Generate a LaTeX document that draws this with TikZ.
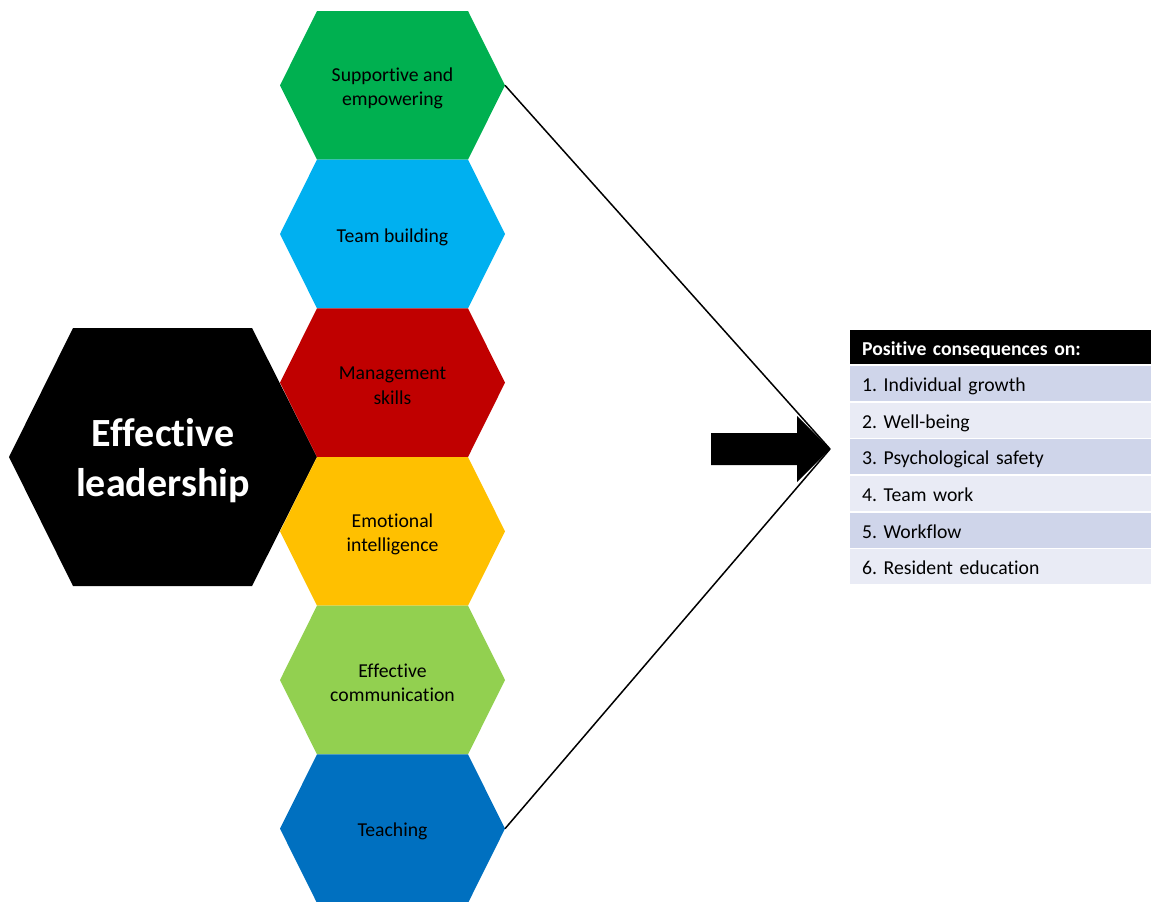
\documentclass[tikz,border=0pt]{standalone}
\usepackage{fontspec}
\setmainfont{Carlito}[Ligatures=NoCommon]
\frenchspacing
\definecolor{hexgreen}{HTML}{00B050}
\definecolor{hexcyan}{HTML}{00B0F0}
\definecolor{hexred}{HTML}{C00000}
\definecolor{hexamber}{HTML}{FFC000}
\definecolor{hexlime}{HTML}{92D050}
\definecolor{hexblue}{HTML}{0070C0}
\definecolor{rowdark}{HTML}{CFD5EA}
\definecolor{rowlight}{HTML}{E9EBF5}
\tikzset{
  hexlabel/.style={align=center, text=black, inner sep=0pt, yshift=-3pt,
    font=\fontsize{19.7}{24.5}\selectfont},
  mainlabel/.style={align=center, text=white, inner sep=0pt, yshift=-4pt,
    font=\fontsize{40}{50}\selectfont\bfseries},
  guide/.style={draw=black, line width=1.5pt},
  tablehead/.style={anchor=north west, fill=black, text=white,
    inner xsep=12pt, inner ysep=0pt, text width=277pt, align=left,
    text height=18pt, text depth=2pt,
    minimum height=34pt, font=\fontsize{19.7}{24}\selectfont\bfseries},
  tablerow/.style={anchor=north west, fill=#1, text=black,
    inner xsep=12pt, inner ysep=0pt, text width=277pt, align=left,
    text height=18pt, text depth=2pt,
    minimum height=35pt, font=\fontsize{19.7}{24}\selectfont}
}
\begin{document}
\begin{tikzpicture}[x=1pt, y=-1pt]
\useasboundingbox (0,0) rectangle (1151,902);

% central hexagon
\fill[black] (9,457) -- (73,328) -- (252,328) -- (317,457) -- (252,586) -- (73,586) -- cycle;
\node[mainlabel] (lead) at (163,457) {Effective\\leadership};

% column of leadership components
\foreach \k/\col/\txt in {
    0/hexgreen/{Supportive and\\empowering},
    1/hexcyan/{Team building},
    2/hexred/{Management\\skills},
    3/hexamber/{Emotional\\intelligence},
    4/hexlime/{Effective\\communication},
    5/hexblue/{Teaching}}{
  \pgfmathsetmacro\ytop{11+148.67*\k}
  \pgfmathsetmacro\ymid{\ytop+74.33}
  \pgfmathsetmacro\ybot{\ytop+148.67}
  \fill[\col] (280,\ymid) -- (317,\ytop) -- (468,\ytop) -- (505,\ymid)
              -- (468,\ybot) -- (317,\ybot) -- cycle;
  \coordinate (hex\k e) at (505,\ymid);
  \node[hexlabel] (hex\k) at (392.5,\ymid) {\txt};
}

% converging guides and the block arrow
\coordinate (tip) at (830,449);
\draw[guide] (hex0e) -- (tip);
\draw[guide] (hex5e) -- (tip);
\fill[black] (711,433) -- (797,433) -- (797,416) -- (tip) -- (797,482)
             -- (797,465) -- (711,465) -- cycle;

% list of outcomes
\node[tablehead] (hdr) at (850,330) {Positive consequences on:};
\foreach \i/\fillc/\txt in {
    1/rowdark/{1. Individual growth},
    2/rowlight/{2. Well-being},
    3/rowdark/{3. Psychological safety},
    4/rowlight/{4. Team work},
    5/rowdark/{5. Workflow},
    6/rowlight/{6. Resident education}}{
  \pgfmathsetmacro\rtop{366+36.6*(\i-1)}
  \node[tablerow=\fillc] (row\i) at (850,\rtop) {\txt};
}
\end{tikzpicture}
\end{document}
